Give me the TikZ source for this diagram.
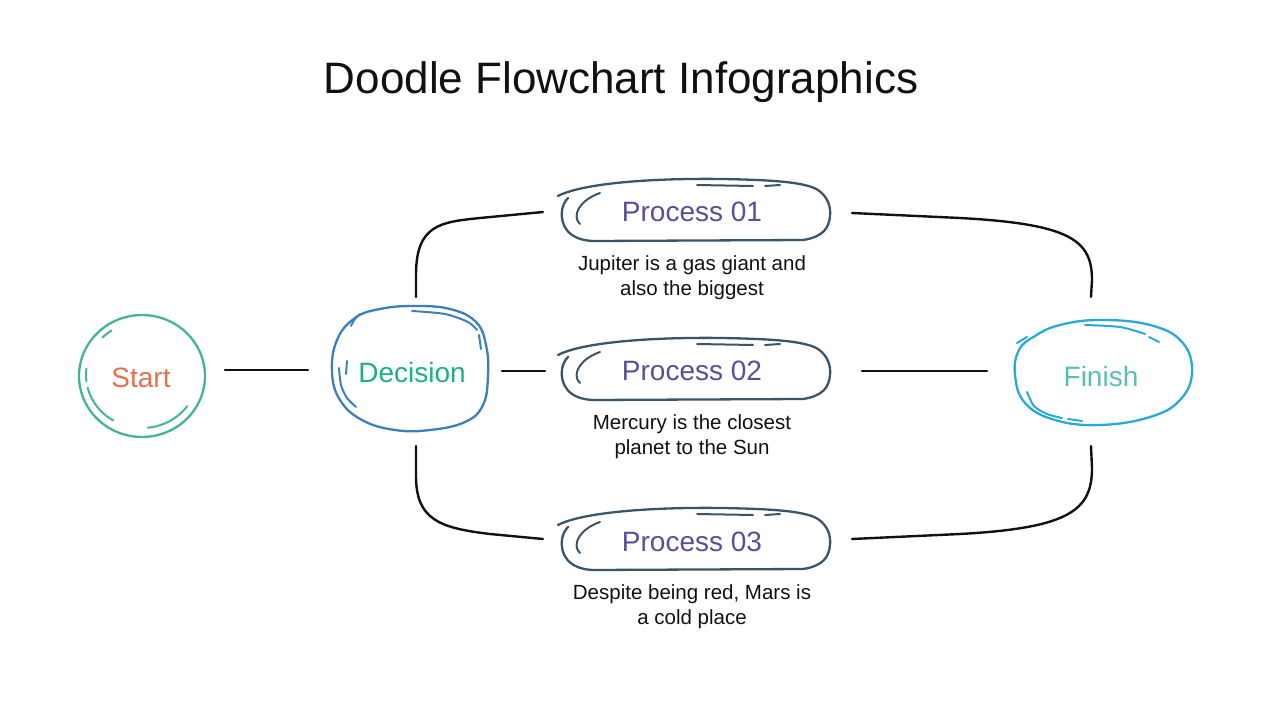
\documentclass[tikz,border=0pt]{standalone}
\usepackage{fontspec}
\setmainfont{Liberation Sans}
\definecolor{startline}{HTML}{45B397}
\definecolor{starttext}{HTML}{E4704F}
\definecolor{decline}{HTML}{3B7FC0}
\definecolor{dectext}{HTML}{1FAE8A}
\definecolor{procline}{HTML}{3C5467}
\definecolor{proctext}{HTML}{5A4E9C}
\definecolor{finline}{HTML}{29A9D7}
\definecolor{fintext}{HTML}{5CBCB8}
\definecolor{ink}{HTML}{111111}
\newcommand\procdoodle{%
  \draw[outline] (-135,-14) .. controls (-110,-27) and (-40,-32) .. (30,-31)
     .. controls (80,-30) and (112,-28) .. (125,-20)
     .. controls (135,-13) and (138,-3) .. (137,6)
     .. controls (136,18) and (130,27) .. (110,30) -- (-100,31)
     .. controls (-125,30) and (-133,15) .. (-131,0)
     .. controls (-130,-5) and (-128,-9) .. (-125,-12);
  \draw[inner] (-93,-17) .. controls (-105,-13) and (-114,-5) .. (-116,3)
     .. controls (-117,8) and (-116,11) .. (-113,14);
  \draw[inner] (4,-25) -- (60,-24);
  \draw[inner] (72,-24) -- (87,-25);
}
\begin{document}
\begin{tikzpicture}[x=1pt,y=-1pt,
  outline/.style={line width=2.3pt, line cap=round, line join=round},
  inner/.style={line width=2pt, line cap=round},
  conn/.style={line width=2.4pt, ink, line cap=round},
  big/.style={font=\fontsize{28}{34}\selectfont, inner sep=0pt, anchor=base},
  desc/.style={font=\fontsize{20.5}{25}\selectfont, text=ink, inner sep=0pt, anchor=base},
]
\useasboundingbox (0,0) rectangle (1280,720);

% title
\node[font=\fontsize{44}{52}\selectfont, text=ink, inner sep=0pt, anchor=base] (title) at (621,93) {Doodle Flowchart Infographics};

% ---- Start
\begin{scope}[draw=startline, color=startline]
  \draw[outline] plot[smooth cycle, domain=0:350, samples=36] ({142+63*cos(\x)},{376+61*sin(\x)});
  \draw[inner] plot[smooth, domain=225:237, samples=5] ({142+56*cos(\x)},{375+53*sin(\x)});
  \draw[inner] plot[smooth, domain=173:187, samples=5] ({142+56*cos(\x)},{375+53*sin(\x)});
  \draw[inner] plot[smooth, domain=121:166, samples=10] ({142+56*cos(\x)},{375+53*sin(\x)});
  \draw[inner] plot[smooth, domain=36:84, samples=10] ({142+56*cos(\x)},{375+53*sin(\x)});
\end{scope}
\node[big, text=starttext] (start) at (141,387) {Start};

% ---- Decision
\begin{scope}[draw=decline, color=decline]
  \draw[outline] plot[smooth cycle, tension=0.7] coordinates {(413,306) (450,309) (476,322) (486,345) (488,375) (483,405) (465,422) (430,430) (395,430) (362,420) (340,400) (332,372) (337,340) (355,318) (380,309)};
  \draw[inner] (351,326) .. controls (353,321) and (356,317) .. (360,314);
  \draw[inner] plot[smooth] coordinates {(412,311) (445,314) (468,322) (477,330)};
  \draw[inner] (479,335) -- (481,349);
  \draw[inner] (347,361) -- (346,374);
  \draw[inner] plot[smooth] coordinates {(339,368) (341,385) (347,398) (356,407)};
\end{scope}
\node[big, text=dectext] (decision) at (412,382) {Decision};

% ---- Processes
\coordinate (p1c) at (693,210);
\coordinate (p2c) at (693,369);
\coordinate (p3c) at (693,539);
\begin{scope}[shift={(p1c)}, draw=procline, color=procline]\procdoodle\end{scope}
\begin{scope}[shift={(p2c)}, draw=procline, color=procline]\procdoodle\end{scope}
\begin{scope}[shift={(p3c)}, draw=procline, color=procline]\procdoodle\end{scope}
\node[big, text=proctext] (p1) at (692,221) {Process 01};
\node[big, text=proctext] (p2) at (692,380) {Process 02};
\node[big, text=proctext] (p3) at (692,551) {Process 03};

\node[desc] (d1a) at (692,270) {Jupiter is a gas giant and};
\node[desc] (d1b) at (692,295) {also the biggest};
\node[desc] (d2a) at (692,429) {Mercury is the closest};
\node[desc] (d2b) at (692,454) {planet to the Sun};
\node[desc] (d3a) at (692,599) {Despite being red, Mars is};
\node[desc] (d3b) at (692,624) {a cold place};

% ---- Finish
\begin{scope}[draw=finline, color=finline]
  \draw[outline] plot[smooth cycle, tension=0.7] coordinates {(1100,320) (1150,325) (1182,342) (1192,372) (1180,400) (1150,417) (1100,425) (1055,420) (1025,403) (1015,375) (1019,350) (1035,336) (1060,325)};
  \draw[inner] (1017,343) -- (1027,337);
  \draw[inner] plot[smooth] coordinates {(1085,325) (1120,327) (1145,334)};
  \draw[inner] (1149,337) -- (1159,342);
  \draw[inner] plot[smooth] coordinates {(1027,392) (1034,406) (1047,414) (1062,418)};
  \draw[inner] (1068,419) -- (1082,421);
\end{scope}
\node[big, text=fintext] (finish) at (1101,386) {Finish};

% ---- connector end points
\coordinate (sOut) at (225,370);
\coordinate (dIn) at (308,370);
\coordinate (dOut) at (502,371);
\coordinate (p2In) at (545,371);
\coordinate (p2Out) at (862,371);
\coordinate (fIn) at (987,371);
\coordinate (dTop) at (416,297);
\coordinate (p1In) at (543,212);
\coordinate (dBot) at (416,446);
\coordinate (p3In) at (543,539);
\coordinate (p1Out) at (852,213);
\coordinate (fTop) at (1091,297);
\coordinate (p3Out) at (852,539);
\coordinate (fBot) at (1091,446);

\draw[conn] (sOut) -- (dIn);
\draw[conn] (dOut) -- (p2In);
\draw[conn] (p2Out) -- (fIn);
\draw[conn] (dTop) -- (416,275) .. controls (416,225) and (440,222) .. (480,218) -- (p1In);
\draw[conn] (dBot) -- (416,476) .. controls (416,520) and (440,528) .. (490,534) -- (p3In);
\draw[conn] (p1Out) -- (960,218) .. controls (1070,224) and (1092,240) .. (1092,280) -- (fTop);
\draw[conn] (p3Out) -- (960,534) .. controls (1070,528) and (1092,510) .. (1092,468) -- (fBot);
\end{tikzpicture}
\end{document}
